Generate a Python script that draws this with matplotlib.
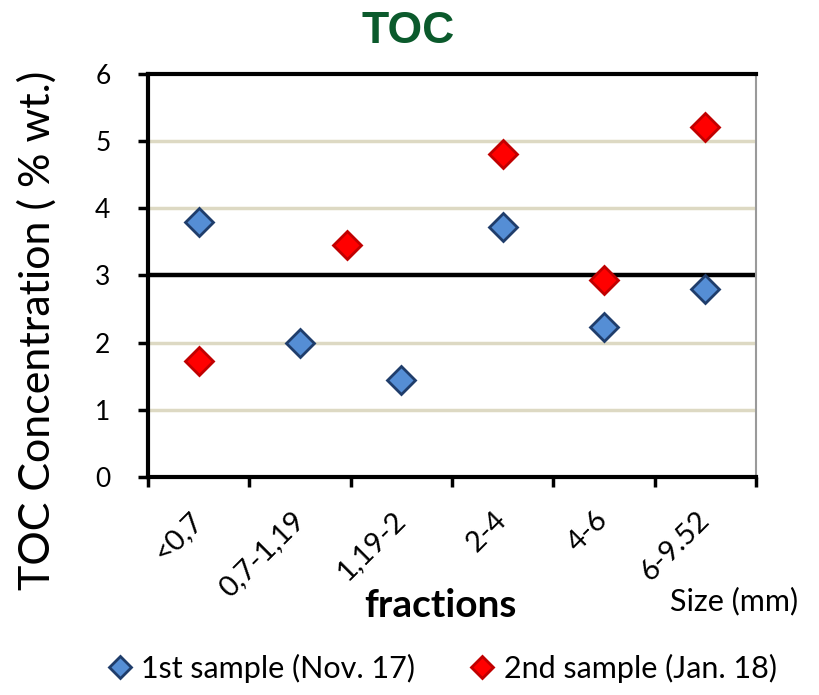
import matplotlib.pyplot as plt

fractions = ["<0,7", "0,7-1,19", "1,19-2", "2-4", "4-6", "6-9.52"]

x_first = [0.5, 1.5, 2.5, 3.5, 4.5, 5.5]
toc_first = [3.80, 2.00, 1.44, 3.72, 2.23, 2.80]

x_second = [0.5, 1.96, 3.5, 4.5, 5.5]
toc_second = [1.73, 3.45, 4.81, 2.93, 5.21]

limite = 3

fig = plt.figure(figsize=(8.19, 6.95), dpi=100)
ax = fig.add_axes([0.1807, 0.3137, 0.7423, 0.5798])

for y in [1, 2, 4, 5]:
    ax.axhline(y, color="#ddd9c3", lw=2.5, zorder=1)
ax.axhline(limite, color="black", lw=3.2, zorder=2)

ax.plot(x_first, toc_first, "D", ms=14, mfc="#558ed5", mec="#1f3d6b", mew=2,
        label="1st sample (Nov. 17)", zorder=3)
ax.plot(x_second, toc_second, "D", ms=14, mfc="#ff0000", mec="#c00000", mew=2,
        label="2nd sample (Jan. 18)", zorder=3)

ax.set_xlim(0, 6)
ax.set_ylim(0, 6)
ax.set_yticks(range(7))
ax.set_yticklabels([str(i) for i in range(7)], fontsize=19, family="Lato")
ax.set_xticks(range(7))
ax.set_xticklabels([])
ax.set_xticks([i + 0.5 for i in range(6)], minor=True)
ax.set_xticklabels(fractions, minor=True, rotation=45, ha="right", va="center",
                   rotation_mode="anchor", fontsize=21, family="Lato")
ax.tick_params(axis="x", which="minor", length=0, pad=28)
ax.tick_params(axis="both", which="major", width=2.5, length=7, direction="out")
ax.tick_params(axis="y", which="major", pad=20)

for side in ["left", "bottom", "top"]:
    ax.spines[side].set_linewidth(3)
ax.spines["right"].set_color("#9a9a9a")
ax.spines["right"].set_linewidth(1.5)

ax.set_ylabel("TOC Concentration ( % wt.)", fontsize=31, family="Lato")
ax.yaxis.set_label_coords(-0.15, 0.365)
fig.text(0.538, 0.112, "fractions", ha="center", va="baseline", fontsize=28,
         weight="bold", family="Lato")
fig.text(0.818, 0.122, "Size (mm)", ha="left", va="baseline", fontsize=22, family="Lato")
fig.text(0.498, 0.955, "TOC", ha="center", va="center", fontsize=32, weight="bold",
         color="#0b5a2c", family="Liberation Sans")

fig.legend(loc="center", bbox_to_anchor=(0.54, 0.038), ncol=2, frameon=False,
           prop={"family": "Lato", "size": 22}, handletextpad=0.3,
           columnspacing=1.8, handlelength=0.8, markerscale=0.8)

fig.savefig("out.png", dpi=100)
